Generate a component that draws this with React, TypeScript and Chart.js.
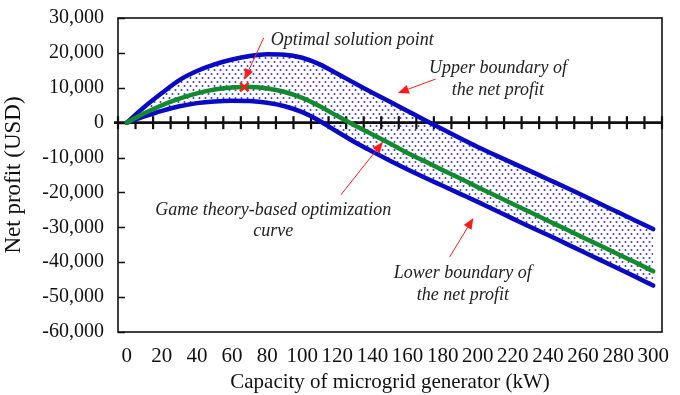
import React, { useEffect, useRef } from "react";
import { Chart, registerables } from "chart.js";

Chart.register(...registerables);

// Generator capacity (kW), sampled every 10 kW
const capacityKW = [
  0, 10, 20, 30, 40, 50, 60, 70, 80, 90, 100, 110, 120, 130, 140, 150,
  160, 170, 180, 190, 200, 210, 220, 230, 240, 250, 260, 270, 280, 290, 300,
];

// Net profit (USD) – upper boundary
const upperProfit = [
  0, 4500, 8500, 12200, 14800, 16700, 18100, 19100, 19600, 19500, 18600,
  16700, 14000, 11300, 8600, 6000, 3350, 700, -1900, -4500, -7000, -9300,
  -11600, -13900, -16200, -18500, -20900, -23300, -25700, -28100, -30500,
];

// Net profit (USD) – game theory-based optimization curve
const optimizedProfit = [
  0, 2700, 5000, 6900, 8400, 9500, 10100, 10200, 9800, 8800, 7100, 4700,
  1900, -800, -3400, -6000, -8700, -11100, -13600, -16000, -18500, -20900,
  -23300, -25700, -28100, -30500, -32900, -35300, -37700, -40100, -42600,
];

// Net profit (USD) – lower boundary
const lowerProfit = [
  0, 1800, 3400, 4700, 5600, 6100, 6300, 6200, 5700, 4700, 3000, 500,
  -2600, -5600, -8300, -10900, -13400, -15800, -18100, -20400, -22700,
  -25100, -27500, -29900, -32200, -34600, -37000, -39400, -41800, -44200,
  -46700,
];

// Optimal solution on the optimization curve
const optimalCapacity = 67;
const optimalProfit = 10200;

// Axis ticks
const xTickValues = [0, 20, 40, 60, 80, 100, 120, 140, 160, 180, 200, 220, 240, 260, 280, 300];
const yTickValues = [-60000, -50000, -40000, -30000, -20000, -10000, 0, 10000, 20000, 30000];

// Callouts: text lines anchored in data space, arrows from tail to head (kW, USD)
type Callout = {
  lines: string[];
  x: number;
  y: number[];
  arrowFrom: [number, number];
  arrowTo: [number, number];
};

const callouts: Callout[] = [
  {
    lines: ["Optimal solution point"],
    x: 128.5,
    y: [23700],
    arrowFrom: [78, 24300],
    arrowTo: [67, 12300],
  },
  {
    lines: ["Upper boundary of", "the net profit"],
    x: 211.5,
    y: [15700, 9300],
    arrowFrom: [176, 12500],
    arrowTo: [154.5, 8500],
  },
  {
    lines: ["Game theory-based optimization", "curve"],
    x: 83.5,
    y: [-25000, -31000],
    arrowFrom: [122, -20700],
    arrowTo: [146, -5500],
  },
  {
    lines: ["Lower boundary of", "the net profit"],
    x: 191.5,
    y: [-43300, -49600],
    arrowFrom: [184, -38500],
    arrowTo: [197.5, -27300],
  },
];

const SERIF = '"Liberation Serif", "Times New Roman", serif';
const BLUE = "#0a0ac4";
const GREEN = "#138a2c";
const RED = "#ff1a1a";

function makeDotPattern(): CanvasPattern | string {
  const tile = document.createElement("canvas");
  tile.width = 6;
  tile.height = 8;
  const c = tile.getContext("2d");
  if (!c) return "rgba(40,40,230,0.12)";
  c.fillStyle = "rgba(20,20,230,0.85)";
  for (const [px, py] of [
    [1.5, 2],
    [4.5, 6],
  ]) {
    c.beginPath();
    c.arc(px, py, 1.0, 0, Math.PI * 2);
    c.fill();
  }
  const pattern = c.createPattern(tile, "repeat");
  return pattern ?? "rgba(40,40,230,0.12)";
}

const axesPlugin = {
  id: "excelAxes",
  beforeDatasetsDraw(chart: any) {
    const { ctx, chartArea } = chart;
    const { left, right, top, bottom } = chartArea;
    const xs = chart.scales.x;
    const ys = chart.scales.y;
    ctx.save();
    ctx.strokeStyle = "#111";

    // inside tick marks on the value axis
    ctx.lineWidth = 1.5;
    for (const v of yTickValues) {
      const py = Math.round(ys.getPixelForValue(v)) + 0.5;
      ctx.beginPath();
      ctx.moveTo(left, py);
      ctx.lineTo(left + 7, py);
      ctx.stroke();
    }

    // horizontal axis crossing at zero
    const y0 = ys.getPixelForValue(0);
    ctx.lineWidth = 2.6;
    ctx.beginPath();
    ctx.moveTo(left - 4, y0);
    ctx.lineTo(right, y0);
    ctx.stroke();

    // cross tick marks between the capacity categories
    const step = capacityKW[1] - capacityKW[0];
    const bounds = [...capacityKW.map((c) => c - step / 2), capacityKW[capacityKW.length - 1] + step / 2];
    ctx.lineWidth = 2.2;
    for (const b of bounds) {
      const px = xs.getPixelForValue(b);
      ctx.beginPath();
      ctx.moveTo(px, y0 - 6.5);
      ctx.lineTo(px, y0 + 6.5);
      ctx.stroke();
    }

    // plot frame
    ctx.lineWidth = 1.6;
    ctx.strokeRect(left, top, right - left, bottom - top);
    ctx.restore();
  },
  afterDatasetsDraw(chart: any) {
    const { ctx } = chart;
    const xs = chart.scales.x;
    const ys = chart.scales.y;
    ctx.save();
    for (const co of callouts) {
      // arrow
      const x1 = xs.getPixelForValue(co.arrowFrom[0]);
      const y1 = ys.getPixelForValue(co.arrowFrom[1]);
      const x2 = xs.getPixelForValue(co.arrowTo[0]);
      const y2 = ys.getPixelForValue(co.arrowTo[1]);
      const ang = Math.atan2(y2 - y1, x2 - x1);
      const headLen = 11;
      const headHalf = 4.5;
      const bx = x2 - headLen * Math.cos(ang);
      const by = y2 - headLen * Math.sin(ang);
      ctx.strokeStyle = RED;
      ctx.fillStyle = RED;
      ctx.lineWidth = 1;
      ctx.beginPath();
      ctx.moveTo(x1, y1);
      ctx.lineTo(bx, by);
      ctx.stroke();
      ctx.beginPath();
      ctx.moveTo(x2, y2);
      ctx.lineTo(bx + headHalf * Math.sin(ang), by - headHalf * Math.cos(ang));
      ctx.lineTo(bx - headHalf * Math.sin(ang), by + headHalf * Math.cos(ang));
      ctx.closePath();
      ctx.fill();

      // text
      ctx.fillStyle = "#222";
      ctx.font = `italic 18px ${SERIF}`;
      ctx.textAlign = "center";
      ctx.textBaseline = "middle";
      co.lines.forEach((line, i) => {
        ctx.fillText(line, xs.getPixelForValue(co.x), ys.getPixelForValue(co.y[i]));
      });
    }
    ctx.restore();
  },
};

export default function App() {
  const canvasRef = useRef<HTMLCanvasElement | null>(null);

  useEffect(() => {
    const canvas = canvasRef.current;
    if (!canvas) return;
    const dots = makeDotPattern();
    const pts = (vals: number[]) => capacityKW.map((c, i) => ({ x: c, y: vals[i] }));

    const chart = new Chart(canvas, {
      type: "line",
      data: {
        datasets: [
          {
            label: "Upper boundary of the net profit",
            data: pts(upperProfit),
            borderColor: BLUE,
            borderWidth: 4.5,
            backgroundColor: dots as any,
            fill: "+1",
            pointRadius: 0,
            cubicInterpolationMode: "monotone",
            borderCapStyle: "round",
            borderJoinStyle: "round",
            order: 3,
          },
          {
            label: "Lower boundary of the net profit",
            data: pts(lowerProfit),
            borderColor: BLUE,
            borderWidth: 4.5,
            fill: false,
            pointRadius: 0,
            cubicInterpolationMode: "monotone",
            borderCapStyle: "round",
            borderJoinStyle: "round",
            order: 2,
          },
          {
            label: "Game theory-based optimization curve",
            data: pts(optimizedProfit),
            borderColor: GREEN,
            borderWidth: 4.5,
            fill: false,
            pointRadius: 0,
            cubicInterpolationMode: "monotone",
            borderCapStyle: "round",
            borderJoinStyle: "round",
            order: 1,
          },
          {
            label: "Optimal solution point",
            data: [{ x: optimalCapacity, y: optimalProfit }],
            showLine: false,
            pointStyle: "crossRot",
            pointRadius: 6,
            pointBorderWidth: 2.5,
            pointBorderColor: RED,
            pointBackgroundColor: RED,
            order: 0,
          },
        ],
      },
      options: {
        responsive: false,
        animation: false,
        events: [],
        layout: { padding: { top: 18, right: 18, left: 0, bottom: 0 } },
        plugins: {
          legend: { display: false },
          tooltip: { enabled: false },
          filler: { drawTime: "beforeDatasetsDraw" } as any,
        },
        scales: {
          x: {
            type: "linear",
            min: capacityKW[0] - 5,
            max: capacityKW[capacityKW.length - 1] + 5,
            afterBuildTicks: (scale: any) => {
              scale.ticks = xTickValues.map((v) => ({ value: v }));
            },
            afterFit: (scale: any) => {
              scale.height = 63;
              scale.paddingLeft = 0;
              scale.paddingRight = 0;
            },
            grid: { display: false, drawTicks: false },
            border: { display: false },
            ticks: {
              autoSkip: false,
              maxRotation: 0,
              padding: 12,
              color: "#111",
              font: { family: SERIF, size: 21 },
              callback: (v: any) => String(v),
            },
            title: {
              display: true,
              text: "Capacity of microgrid generator (kW)",
              color: "#111",
              font: { family: SERIF, size: 21 },
              padding: { top: 0, bottom: 0 },
            },
          },
          y: {
            type: "linear",
            min: yTickValues[0],
            max: yTickValues[yTickValues.length - 1],
            afterBuildTicks: (scale: any) => {
              scale.ticks = yTickValues.map((v) => ({ value: v }));
            },
            afterFit: (scale: any) => {
              scale.width = 118;
              scale.paddingTop = 0;
              scale.paddingBottom = 0;
            },
            grid: { display: false, drawTicks: false },
            border: { display: false },
            ticks: {
              padding: 14,
              color: "#111",
              font: { family: SERIF, size: 20 },
              callback: (v: any) => Number(v).toLocaleString("en-US"),
            },
            title: {
              display: true,
              text: "Net profit (USD)",
              color: "#111",
              font: { family: SERIF, size: 23 },
              padding: { top: 0, bottom: 0 },
            },
          },
        },
      },
      plugins: [axesPlugin],
    });

    return () => chart.destroy();
  }, []);

  return (
    <div style={{ position: "fixed", left: 0, top: 0, width: 680, height: 395, background: "#fff" }}>
      <canvas ref={canvasRef} width={680} height={395} />
    </div>
  );
}
